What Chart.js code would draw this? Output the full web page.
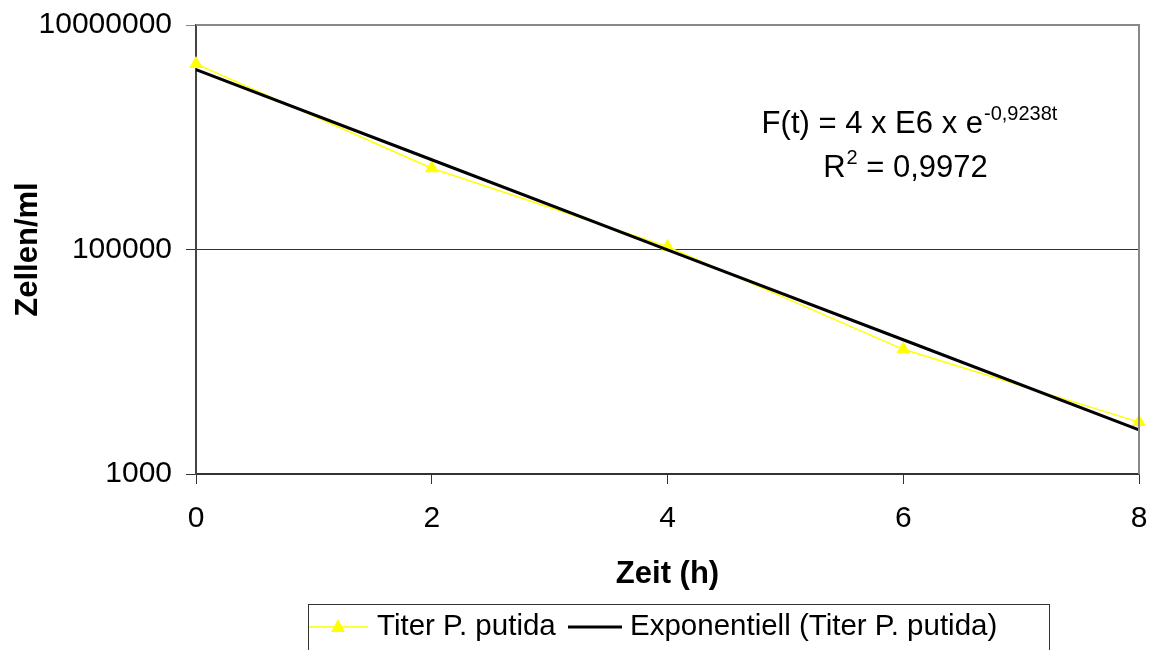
<!DOCTYPE html>
<html><head><meta charset="utf-8">
<script src="https://cdn.jsdelivr.net/npm/chart.js@4.4.0/dist/chart.umd.min.js"></script>
<style>html,body{margin:0;padding:0;background:#fff;} #wrap{width:1155px;height:650px;position:relative;}</style>
</head><body><div id="wrap"><canvas id="c" width="1155" height="650"></canvas></div>
<script>
// ---- data ----
const times = [0, 2, 4, 6, 8];
const titer = [4.5e6, 5.3e5, 1.06e5, 1.29e4, 2.9e3];
const fitValues = [4.0e6, 6.3e5, 9.94e4, 1.57e4, 2.47e3];
const yTicks = [1000, 100000, 10000000];
const xTicks = [0, 2, 4, 6, 8];
const seriesNames = ['Titer P. putida', 'Exponentiell (Titer P. putida)'];
const axisTitles = { x: 'Zeit (h)', y: 'Zellen/ml' };
const eqMain = 'F(t) = 4 x E6 x e';
const eqSup = '-0,9238t';
const r2Parts = ['R', '2', ' = 0,9972'];

const FONT = "'Liberation Sans', Arial, sans-serif";

const extras = {
  id: 'extras',
  afterDraw(chart) {
    const ctx = chart.ctx;
    const a = chart.chartArea;
    ctx.save();
    // plot border top/right
    ctx.strokeStyle = '#888';
    ctx.lineWidth = 2;
    ctx.beginPath();
    ctx.moveTo(a.left, a.top); ctx.lineTo(a.right, a.top); ctx.lineTo(a.right, a.bottom);
    ctx.stroke();

    // equation
    ctx.fillStyle = '#000';
    ctx.textBaseline = 'alphabetic';
    ctx.textAlign = 'left';
    const big = '31px ' + FONT, small = '20px ' + FONT;
    ctx.font = big;
    const w1 = ctx.measureText(eqMain).width;
    ctx.font = small;
    const w1s = ctx.measureText(eqSup).width;
    let x = 909 - (w1 + w1s) / 2;
    ctx.font = big;
    ctx.fillText(eqMain, x, 133);
    ctx.font = small;
    ctx.fillText(eqSup, x + w1 + 1, 120);

    ctx.font = big;
    const wR = ctx.measureText(r2Parts[0]).width;
    const wRest = ctx.measureText(r2Parts[2]).width;
    ctx.font = small;
    const w2 = ctx.measureText(r2Parts[1]).width;
    x = 905 - (wR + w2 + wRest) / 2;
    ctx.font = big;
    ctx.fillText(r2Parts[0], x, 177);
    ctx.font = small;
    ctx.fillText(r2Parts[1], x + wR + 1, 164);
    ctx.font = big;
    ctx.fillText(r2Parts[2], x + wR + w2 + 1, 177);

    // legend
    ctx.strokeStyle = '#333';
    ctx.lineWidth = 1;
    ctx.strokeRect(308.5, 604.5, 741, 60);
    const ly = 627;
    ctx.strokeStyle = '#FFFF00';
    ctx.lineWidth = 1.5;
    ctx.beginPath(); ctx.moveTo(309, ly); ctx.lineTo(368, ly); ctx.stroke();
    ctx.fillStyle = '#FFFF00';
    ctx.beginPath();
    ctx.moveTo(338, ly - 8); ctx.lineTo(345, ly + 5); ctx.lineTo(331, ly + 5); ctx.closePath(); ctx.fill();
    ctx.strokeStyle = '#000';
    ctx.lineWidth = 3;
    ctx.beginPath(); ctx.moveTo(568, ly); ctx.lineTo(622, ly); ctx.stroke();
    ctx.fillStyle = '#000';
    ctx.font = '29.5px ' + FONT;
    ctx.textBaseline = 'middle';
    ctx.fillText(seriesNames[0], 377, ly);
    ctx.fillText(seriesNames[1], 630, ly);
    ctx.restore();
  }
};

new Chart(document.getElementById('c'), {
  type: 'line',
  data: {
    datasets: [
      {
        label: seriesNames[1],
        data: times.map((t, i) => ({ x: t, y: fitValues[i] })),
        borderColor: '#000', borderWidth: 3, pointRadius: 0, tension: 0,
        order: 0, clip: false
      },
      {
        label: seriesNames[0],
        data: times.map((t, i) => ({ x: t, y: titer[i] })),
        borderColor: '#FFFF00', borderWidth: 1.5,
        pointStyle: 'triangle', pointRadius: 8, pointBackgroundColor: '#FFFF00', pointBorderColor: '#FFFF00', pointBorderWidth: 0,
        tension: 0, order: 1, clip: false
      }
    ]
  },
  plugins: [extras],
  options: {
    responsive: false, animation: false,
    layout: { padding: { top: 25, right: 16, left: 0, bottom: 0 } },
    plugins: { legend: { display: false }, tooltip: { enabled: false } },
    scales: {
      x: {
        type: 'linear', min: 0, max: 8,
        afterBuildTicks: s => { s.ticks = xTicks.map(v => ({ value: v })); },
        afterFit: s => { s.height = 176; s.paddingLeft = 0; s.paddingRight = 0; },
        ticks: { font: { family: FONT, size: 30 }, color: '#000', padding: 17, maxRotation: 0 },
        grid: { drawOnChartArea: false, tickLength: 10, color: '#333', lineWidth: 1 },
        border: { color: '#333', width: 1.5 },
        title: { display: true, text: axisTitles.x, color: '#000', font: { family: FONT, size: 31, weight: 'bold' }, padding: { top: 0, bottom: 57 } }
      },
      y: {
        type: 'logarithmic', min: 1000, max: 10000000,
        afterBuildTicks: s => { s.ticks = yTicks.map(v => ({ value: v })); },
        afterFit: s => { s.width = 196; s.paddingTop = 0; s.paddingBottom = 0; },
        ticks: { font: { family: FONT, size: 30 }, color: '#000', padding: 14, callback: v => String(v) },
        grid: { tickLength: 10, color: c => (c.tick && c.tick.value === 10000000 ? '#888' : '#333'), lineWidth: 1 },
        border: { color: '#444', width: 2 },
        title: { display: true, text: axisTitles.y, color: '#000', font: { family: FONT, size: 31, weight: 'bold' }, padding: { top: 10, bottom: 0 } }
      }
    }
  }
});
</script>
</body></html>
